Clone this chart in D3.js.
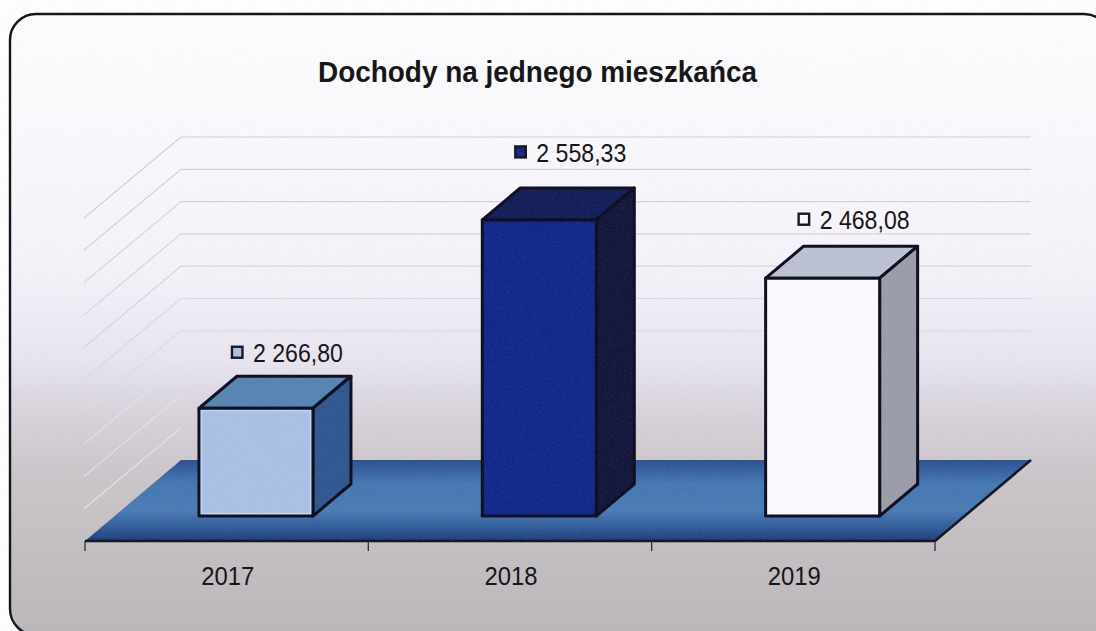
<!DOCTYPE html>
<html><head><meta charset="utf-8">
<script src="https://cdn.jsdelivr.net/npm/d3@7/dist/d3.min.js"></script>
<style>html,body{margin:0;padding:0;background:#fff;overflow:hidden}svg{display:block;font-family:"Liberation Sans",Arial,sans-serif}</style>
</head><body><script>
const chartTitle = "Dochody na jednego mieszkańca";
const categories = ["2017", "2018", "2019"];
const values = [2266.80, 2558.33, 2468.08];
const valueLabels = ["2 266,80", "2 558,33", "2 468,08"];
const axisDomain = [2100, 2600];
const frontColors = ["#a9c1e6", "#10258a", "#fbfbff"];
const topColors = ["#5584b4", "#111b58", "#bcc1d4"];
const sideColors = ["#2f5690", "#12133a", "#9a9ca9"];
const labelLift = [46, 58, 49];

const W = 1096, H = 631;
const svg = d3.select("body").append("svg").attr("width", W).attr("height", H);
const defs = svg.append("defs");

const bg = defs.append("linearGradient").attr("id", "bg").attr("x1", 0).attr("x2", 0).attr("y1", 0).attr("y2", 1);
[[0, "#fefeff"], [.4, "#f6f4fb"], [.56, "#e9e5f0"], [.6, "#e0dce8"], [.64, "#d9d4dc"], [.74, "#cbc6ca"], [1, "#bab6b9"]]
  .forEach(s => bg.append("stop").attr("offset", s[0]).attr("stop-color", s[1]));
const fl = defs.append("linearGradient").attr("id", "floor").attr("x1", 0).attr("x2", 0).attr("y1", 0).attr("y2", 1);
[[0, "#2a4e91"], [.28, "#4376b2"], [.62, "#487bb5"], [.86, "#2c5795"], [1, "#1c3877"]]
  .forEach(s => fl.append("stop").attr("offset", s[0]).attr("stop-color", s[1]));
const grain = defs.append("filter").attr("id", "grain").attr("x", 0).attr("y", 0).attr("width", 1).attr("height", 1);
grain.append("feTurbulence").attr("type", "fractalNoise").attr("baseFrequency", 1.1).attr("numOctaves", 2).attr("seed", 4);
grain.append("feColorMatrix").attr("values", "0 0 0 0 .5  0 0 0 0 .5  0 0 0 0 .5  1.6 0 0 0 -.55");

const frame = {x: 10, y: 14, w: 1100, h: 621, r: 26};
svg.append("rect").attr("x", frame.x).attr("y", frame.y).attr("width", frame.w).attr("height", frame.h)
  .attr("rx", frame.r).attr("fill", "url(#bg)").attr("stroke", "#101018").attr("stroke-width", 2.4);

const textInk = "#111";
svg.append("text").attr("x", 318).attr("y", 82)
  .attr("font-size", 30).attr("font-weight", 700).attr("fill", textInk)
  .attr("textLength", 439).attr("lengthAdjust", "spacingAndGlyphs").text(chartTitle);

// plot geometry
const front = {left: 85, right: 935, y: 541};
const wallShift = {x: 96, y: -81};
const barDepth = {x: 38, y: -32};
const barBase = 516, unit = 323;
const x = d3.scaleBand().domain(categories).range([front.left, front.right]);
const y = d3.scaleLinear().domain(axisDomain).range([barBase, barBase - unit]);
const wallY = v => y(v) + (front.y + wallShift.y - barBase);
const barW = 114, barOffset = 29.3;
const line = d3.line();

// wall gridlines: dark and faint on top, fading out toward the floor
const gridV = y.ticks(10).filter(v => v > axisDomain[0]);
const backColor = v => v <= 2250 ? "none" : d3.scaleLinear().domain([2300, 2400, 2600]).range(["#dfdbe5", "#d8d3de", "#d0cbd9"])(v);
const sideColor = v => v <= 2200 ? "#e6e3e8" : d3.scaleLinear().domain([2250, 2400, 2600]).range(["#e4e1ea", "#d9d5e0", "#d4cfdd"])(v);
const grid = svg.append("g");
grid.selectAll("path.back").data(gridV).join("path").attr("class", "back")
  .attr("fill", "none").attr("stroke", backColor).attr("stroke-width", 1.2)
  .attr("d", v => line([[front.left + wallShift.x, wallY(v)], [front.right + wallShift.x, wallY(v)]]));
grid.selectAll("path.side").data(gridV).join("path").attr("class", "side")
  .attr("fill", "none").attr("stroke", sideColor).attr("stroke-width", 1.2)
  .attr("d", v => line([[front.left - 1, wallY(v) - wallShift.y], [front.left + wallShift.x, wallY(v)]]));

// floor
const floorPts = [
  [front.left, front.y], [front.right, front.y],
  [front.right + wallShift.x, front.y + wallShift.y], [front.left + wallShift.x, front.y + wallShift.y]
];
svg.append("path").attr("d", line(floorPts) + "Z").attr("fill", "url(#floor)");
svg.append("path").attr("fill", "none").attr("stroke", "#10131f").attr("stroke-width", 2.6).attr("stroke-linejoin", "round")
  .attr("d", line([floorPts[0], floorPts[1], floorPts[2]]));

// axis ticks and labels
const boundaries = categories.map(c => x(c)).concat(front.right);
svg.append("g").selectAll("line").data(boundaries).join("line")
  .attr("x1", d => d).attr("x2", d => d).attr("y1", front.y).attr("y2", front.y + 10)
  .attr("stroke", "#2a2a30").attr("stroke-width", 1.3);
const axis = d3.axisBottom(x).tickSize(0).tickPadding(0);
const axisG = svg.append("g").attr("transform", `translate(1,${front.y})`).call(axis);
axisG.select(".domain").remove();
axisG.selectAll("text").attr("y", 44).attr("dy", 0).attr("font-family", "inherit")
  .attr("font-size", 25.5).attr("fill", textInk).attr("textLength", 53).attr("lengthAdjust", "spacingAndGlyphs");

// bars
const outline = "#0b0b1c";
const bars = svg.append("g").selectAll("g").data(categories).join("g");
bars.each(function (c, i) {
  const g = d3.select(this);
  const x0 = x(c) + x.bandwidth() / 2 + barOffset - barW / 2, x1 = x0 + barW;
  const top = y(values[i]);
  const dx = barDepth.x, dy = barDepth.y;
  const face = (pts, fill) => g.append("path").attr("d", line(pts) + "Z").attr("fill", fill)
    .attr("stroke", outline).attr("stroke-width", 3).attr("stroke-linejoin", "round");
  face([[x0, top], [x1, top], [x1 + dx, top + dy], [x0 + dx, top + dy]], topColors[i]);
  face([[x1, top], [x1 + dx, top + dy], [x1 + dx, barBase + dy], [x1, barBase]], sideColors[i]);
  face([[x0, top], [x1, top], [x1, barBase], [x0, barBase]], frontColors[i]);
  if (i === 0) {
    g.append("rect").attr("x", x0 + 2.5).attr("y", top + 2.5).attr("width", barW - 5).attr("height", barBase - top - 5)
      .attr("fill", "none").attr("stroke", "#c6d8f2").attr("stroke-width", 1.2);
  }
  // data label with legend key
  const cx = x0 + barW / 2 + 31, base = top - labelLift[i];
  const keyX = cx - 56;
  g.append("rect").attr("x", keyX + 1).attr("y", base - 15.5).attr("width", 10.5).attr("height", 11)
    .attr("fill", frontColors[i]).attr("stroke", "#14141e").attr("stroke-width", 2.4);
  g.append("text").attr("x", keyX + 22).attr("y", base).attr("font-size", 25).attr("fill", textInk)
    .attr("textLength", 90).attr("lengthAdjust", "spacingAndGlyphs").text(valueLabels[i]);
});

// scan grain
svg.append("rect").attr("width", W).attr("height", H).attr("filter", "url(#grain)").attr("opacity", .13)
  .style("pointer-events", "none");
</script></body></html>
